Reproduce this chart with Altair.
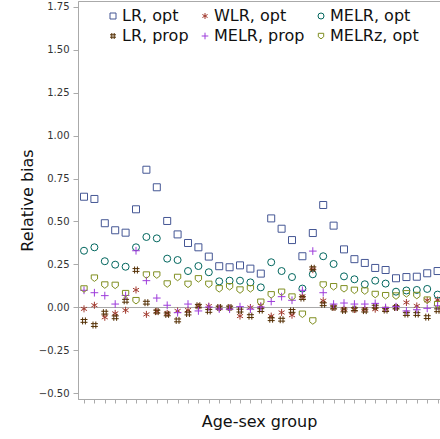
import altair as alt
import pandas as pd

# Age-sex groups (x positions) and relative bias per estimator
groups = list(range(1, 36))

lr_opt = [0.644, 0.631, 0.490, 0.449, 0.435, 0.571, 0.801, 0.699, 0.503, 0.425,
          0.375, 0.350, 0.296, 0.240, 0.234, 0.245, 0.226, 0.197, 0.518, 0.458,
          0.392, 0.298, 0.433, 0.596, 0.476, 0.338, 0.281, 0.259, 0.230, 0.218,
          0.170, 0.177, 0.179, 0.199, 0.212]
wlr_opt = [-0.008, 0.013, -0.057, -0.034, -0.016, 0.102, -0.040, -0.022, -0.034, -0.020,
           -0.015, 0.005, 0.008, -0.003, -0.003, -0.050, 0.000, 0.010, -0.050, -0.029,
           -0.045, 0.065, 0.220, 0.040, 0.002, -0.010, -0.012, -0.010, -0.010, -0.008,
           0.002, 0.029, 0.009, 0.042, 0.044]
melr_opt = [0.330, 0.350, 0.269, 0.249, 0.237, 0.350, 0.410, 0.402, 0.284, 0.276,
            0.212, 0.241, 0.205, 0.152, 0.156, 0.156, 0.146, 0.117, 0.263, 0.212,
            0.177, 0.110, 0.193, 0.298, 0.253, 0.181, 0.164, 0.135, 0.156, 0.139,
            0.092, 0.099, 0.102, 0.108, 0.075]
lr_prop = [-0.078, -0.102, -0.030, -0.057, 0.039, 0.218, 0.028, -0.024, -0.040, -0.075,
           -0.035, 0.010, -0.020, 0.000, 0.000, -0.018, -0.050, -0.015, -0.068, -0.071,
           -0.020, 0.055, 0.228, 0.019, 0.000, -0.017, -0.010, -0.018, 0.005, -0.015,
           0.000, -0.038, -0.038, -0.056, -0.016]
melr_prop = [0.100, 0.086, 0.069, 0.020, 0.070, 0.330, 0.156, 0.055, 0.013, -0.030,
             0.020, -0.020, 0.003, -0.009, -0.010, 0.005, -0.010, 0.003, 0.035, 0.063,
             0.042, 0.100, 0.328, 0.086, 0.020, 0.026, 0.020, 0.020, 0.024, 0.000,
             0.005, -0.020, -0.013, -0.005, 0.010]
melrz_opt = [0.108, 0.171, 0.131, 0.129, 0.081, 0.040, 0.189, 0.189, 0.137, 0.175,
             0.135, 0.167, 0.135, 0.109, 0.121, 0.102, 0.109, 0.031, 0.074, 0.089,
             0.061, -0.039, -0.078, 0.131, 0.121, 0.109, 0.100, 0.096, 0.076, 0.069,
             0.067, 0.080, 0.070, 0.043, 0.017]

# marker outlines: square, asterisk, circle, hash, plus, shield pointing down
ASTERISK = "M0,-1L0,1M-0.87,-0.5L0.87,0.5M-0.87,0.5L0.87,-0.5"
HASH = "M-0.4,-1L-0.4,1M0.4,-1L0.4,1M-1,-0.4L1,-0.4M-1,0.4L1,0.4"
PLUS = "M0,-1.1L0,1.1M-1.1,0L1.1,0"
SHIELD = "M-0.9,-0.9L0.9,-0.9L0.9,0.25L0,0.95L-0.9,0.25Z"

# (name, values, colour, marker); the legend fills column by column in two rows
series = [
    ("LR, opt", lr_opt, "#445694", "square"),
    ("LR, prop", lr_prop, "#543005", HASH),
    ("WLR, opt", wlr_opt, "#A23A2E", ASTERISK),
    ("MELR, prop", melr_prop, "#9D3CDB", PLUS),
    ("MELR, opt", melr_opt, "#01665E", "circle"),
    ("MELRz, opt", melrz_opt, "#7F8E1F", SHIELD),
]
series_names = [s[0] for s in series]
series_colors = [s[2] for s in series]
series_shapes = [s[3] for s in series]

# drawing order of the point layers
draw_order = ["LR, opt", "WLR, opt", "MELR, opt", "LR, prop", "MELR, prop", "MELRz, opt"]
values_by_name = {s[0]: s[1] for s in series}

rows = []
for name in draw_order:
    for g, v in zip(groups, values_by_name[name]):
        rows.append({"group": g, "series": name, "bias": v})
df = pd.DataFrame(rows)

y_ticks = [-0.5, -0.25, 0.0, 0.25, 0.5, 0.75, 1.0, 1.25, 1.5, 1.75]

legend = alt.Legend(
    title=None, orient="none", legendX=27, legendY=7, columns=3,
    columnPadding=8, rowPadding=4, labelFontSize=16, labelFont="DejaVu Sans",
    labelColor="#111111", symbolSize=36, symbolStrokeWidth=1, padding=0,
    labelOffset=1, labelLimit=0,
)

x_enc = alt.X(
    "group:Q",
    scale=alt.Scale(domain=[0.423, 35.23], nice=False, zero=False),
    axis=alt.Axis(values=groups, labels=False, grid=False, tickSize=4,
                  title="Age-sex group", titleFontSize=16, titleFontWeight="normal",
                  titleX=181, titleY=27, titleBaseline="alphabetic"),
)
y_enc = alt.Y(
    "bias:Q",
    scale=alt.Scale(domain=[-0.532, 1.782], nice=False, zero=False),
    axis=alt.Axis(values=y_ticks, format=".2f", grid=False, tickSize=5, labelPadding=4,
                  labelFontSize=10, title="Relative bias", titleFontSize=16,
                  titleFontWeight="normal", titleX=-46, titleY=199,
                  titleBaseline="alphabetic", titleAngle=270),
)

points = alt.Chart(df).mark_point(filled=False, size=49, strokeWidth=1, opacity=1).encode(
    x=x_enc,
    y=y_enc,
    color=alt.Color("series:N", sort=series_names,
                    scale=alt.Scale(domain=series_names, range=series_colors), legend=legend),
    shape=alt.Shape("series:N", sort=series_names,
                    scale=alt.Scale(domain=series_names, range=series_shapes), legend=legend),
)

zero_line = alt.Chart(pd.DataFrame({"ref": [0]})).mark_rule(
    color="#a8a8a8", strokeWidth=1
).encode(y=alt.datum(0))

chart = alt.layer(zero_line, points).properties(
    width=362, height=398,
    autosize=alt.AutoSizeParams(type="none"),
    padding={"left": 78, "top": 1, "right": 0, "bottom": 40},
).configure_view(
    stroke="#aaaaaa", strokeWidth=1
).configure_axis(
    domainColor="#aaaaaa", tickColor="#aaaaaa", labelColor="#333333",
    titleColor="#111111", labelFont="DejaVu Sans", titleFont="DejaVu Sans",
)

chart.save("out.html", embed_options={"renderer": "svg", "actions": False})
